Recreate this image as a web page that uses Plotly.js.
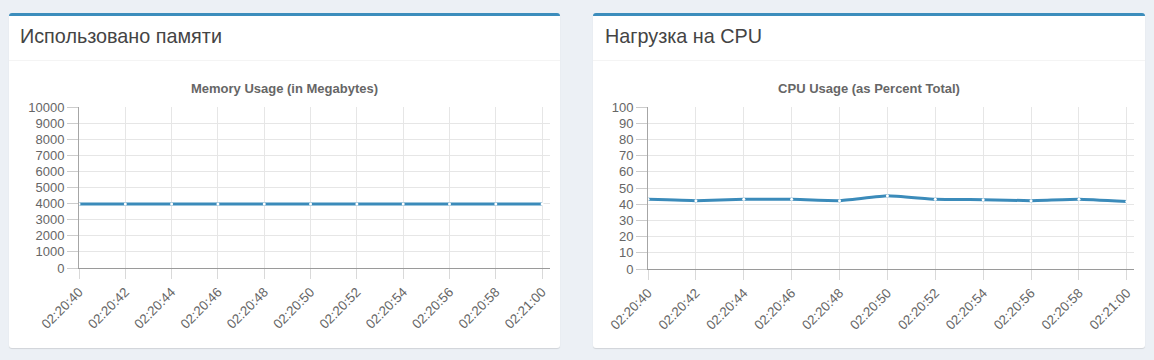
<!DOCTYPE html>
<html>
<head>
<meta charset="utf-8">
<script src="https://cdn.plot.ly/plotly-3.0.1.min.js"></script>
<style>
  html, body { margin: 0; padding: 0; }
  body { width: 1154px; height: 360px; background: #ecf0f5; position: relative; overflow: hidden;
         font-family: "Liberation Sans", Arial, Helvetica, sans-serif; }
  .card { position: absolute; top: 13px; height: 332px; background: #fff; border-top: 3px solid #3c8dbc;
          border-radius: 3px; box-shadow: 0 1px 1px rgba(0,0,0,0.12); }
  .hdr { position: absolute; left: 0; right: 0; top: 0; height: 44px; border-bottom: 1px solid #f4f4f4; }
  .ttl { position: absolute; top: 10px; font-size: 19.8px; line-height: 20px; color: #444; white-space: nowrap; }
  .plot { position: absolute; left: 0; top: 45px; height: 286px; }
</style>
</head>
<body>
<div class="card" id="card1" style="left:9px; width:551px;">
  <div class="hdr"><div class="ttl" style="left:11px;">Использовано памяти</div></div>
  <div class="plot" id="mem" style="width:551px;"></div>
</div>
<div class="card" id="card2" style="left:593px; width:552px;">
  <div class="hdr"><div class="ttl" style="left:12px;">Нагрузка на CPU</div></div>
  <div class="plot" id="cpu" style="width:552px;"></div>
</div>
<script>
const times = ["02:20:40","02:20:42","02:20:44","02:20:46","02:20:48","02:20:50","02:20:52","02:20:54","02:20:56","02:20:58","02:21:00"];
const memValues = [3975, 3975, 3975, 3975, 3975, 3975, 3975, 3975, 3975, 3975, 3975];
const cpuValues = [43.0, 42.2, 43.0, 43.0, 42.2, 45.2, 43.0, 42.8, 42.2, 43.0, 41.6];
const memTitle = "Memory Usage (in Megabytes)";
const cpuTitle = "CPU Usage (as Percent Total)";
const memTicks = [0,1000,2000,3000,4000,5000,6000,7000,8000,9000,10000];
const cpuTicks = [0,10,20,30,40,50,60,70,80,90,100];

const FONT = "'Liberation Sans', Arial, Helvetica, sans-serif";
const LINE = "#3b8bba";

function makeChart(id, values, title, yTicks, yMax, margin, xEnd) {
  const trace = {
    x: times, y: values, type: "scatter", mode: "lines+markers",
    line: { color: LINE, width: 3, shape: "spline", smoothing: 0.3 },
    marker: { size: 3, color: "#ffffff" },
    hoverinfo: "x+y"
  };
  const layout = {
    width: id === "mem" ? 551 : 552, height: 286,
    margin: margin,
    paper_bgcolor: "rgba(0,0,0,0)", plot_bgcolor: "#ffffff",
    showlegend: false,
    font: { family: FONT, size: 13, color: "#666" },
    title: { text: "<b>" + title + "</b>", font: { family: FONT, size: 13, color: "#666" },
             x: 0.5, xref: "container", y: 1 - 27/286, yref: "container", yanchor: "middle", xanchor: "center" },
    xaxis: {
      type: "category", range: [0, xEnd], fixedrange: true,
      showgrid: true, gridcolor: "#e6e6e6", gridwidth: 1,
      showline: true, linecolor: "#9a9a9a", linewidth: 1,
      ticks: "outside", ticklen: 10, tickcolor: "#d9d9d9", tickwidth: 1,
      tickangle: -45, tickfont: { family: FONT, size: 13.3, color: "#666" },
      zeroline: false
    },
    yaxis: {
      range: [0, yMax], fixedrange: true,
      tickmode: "array", tickvals: yTicks, ticktext: yTicks.map(String),
      showgrid: true, gridcolor: "#e6e6e6", gridwidth: 1,
      showline: true, linecolor: "#a6a6a6", linewidth: 1,
      ticks: "outside", ticklen: 11, tickcolor: "#cccccc", tickwidth: 1,
      tickfont: { family: FONT, size: 13, color: "#666" },
      zeroline: false
    }
  };
  Plotly.newPlot(id, [trace], layout, { displayModeBar: false, staticPlot: true });
}

makeChart("mem", memValues, memTitle, memTicks, 10000, { l: 70, r: 10, t: 46, b: 79, pad: 0 }, 10.17);
makeChart("cpu", cpuValues, cpuTitle, cpuTicks, 100, { l: 55, r: 11, t: 46, b: 78, pad: 0 }, 10.15);
</script>
</body>
</html>
